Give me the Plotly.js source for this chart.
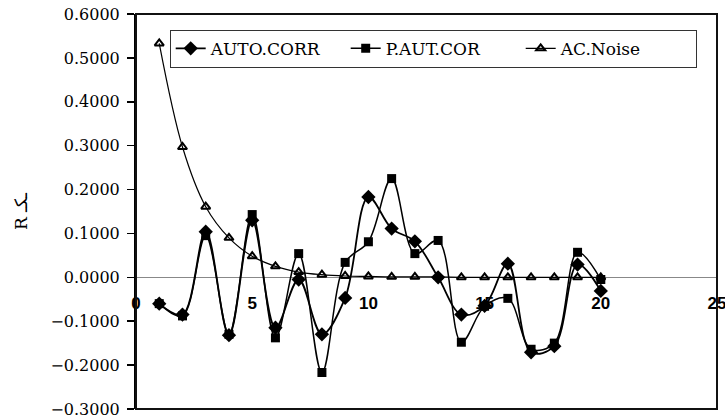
<!DOCTYPE html>
<html>
<head>
<meta charset="utf-8">
<script src="https://cdn.plot.ly/plotly-3.0.1.min.js"></script>
<style>html,body{margin:0;padding:0;background:#fff}#chart{width:725px;height:420px}</style>
</head>
<body>
<div id="chart"></div>
<script>
const lags = [1,2,3,4,5,6,7,8,9,10,11,12,13,14,15,16,17,18,19,20];
const autoCorr = [-0.060,-0.085,0.104,-0.132,0.130,-0.115,-0.005,-0.130,-0.047,0.183,0.111,0.082,0.000,-0.085,-0.065,0.031,-0.171,-0.157,0.029,-0.031];
const pAutCor = [-0.060,-0.088,0.095,-0.130,0.143,-0.138,0.054,-0.217,0.034,0.081,0.225,0.054,0.084,-0.148,-0.066,-0.048,-0.164,-0.150,0.057,-0.005];
const acNoise = [0.533,0.297,0.161,0.090,0.048,0.025,0.012,0.006,0.003,0.002,0.001,0.001,0.001,0.000,0.000,0.000,0.000,0.000,0.000,0.000];
const seriesNames = ["AUTO.CORR","P.AUT.COR","AC.Noise"];
const yTitle = "R ـﻜـ";

const serif = 'DejaVu Serif';

const traces = [
  {x: lags, y: autoCorr, name: seriesNames[0], type: 'scatter', mode: 'lines+markers',
   line: {color: '#000', width: 1.8, shape: 'spline', smoothing: 1},
   marker: {symbol: 'diamond', size: 11, color: '#000'}},
  {x: lags, y: pAutCor, name: seriesNames[1], type: 'scatter', mode: 'lines+markers',
   line: {color: '#000', width: 1.5, shape: 'spline', smoothing: 1},
   marker: {symbol: 'square', size: 9, color: '#000'}},
  {x: lags, y: acNoise, name: seriesNames[2], type: 'scatter', mode: 'lines+markers',
   line: {color: '#000', width: 1.2, shape: 'spline', smoothing: 1},
   marker: {symbol: 'triangle-up-open', size: 8, color: '#000', line: {width: 2, color: '#000'}}}
];

const layout = {
  width: 725, height: 420,
  margin: {l: 136, r: 8, t: 14, b: 11},
  paper_bgcolor: '#fff', plot_bgcolor: '#fff',
  showlegend: true,
  legend: {orientation: 'h', x: 0.058, y: 0.96, xanchor: 'left', yanchor: 'top',
    bordercolor: '#333', borderwidth: 1, bgcolor: '#fff',
    entrywidth: 130, entrywidthmode: 'pixels',
    font: {family: serif, size: 17, color: '#000'}},
  xaxis: {range: [0, 25], dtick: 5, tick0: 0, anchor: 'free', position: 0.333,
    showline: false, showgrid: false, zeroline: false, ticks: '',
    ticklabelstandoff: 14, ticklabeloverflow: 'allow',
    tickfont: {family: 'Liberation Sans', size: 17, color: '#000', weight: 'bold'}},
  yaxis: {range: [-0.3002, 0.6002], dtick: 0.1, tick0: 0, tickformat: '.4f', showgrid: false,
    zeroline: true, zerolinecolor: '#888', zerolinewidth: 1.2,
    showline: true, linecolor: '#000', linewidth: 2,
    ticks: 'outside', ticklen: 7, tickcolor: '#000', tickwidth: 1.5,
    ticklabelstandoff: 4, ticklabeloverflow: 'allow',
    tickfont: {family: serif, size: 16, color: '#000'},
    title: {text: yTitle, font: {family: 'DejaVu Serif', size: 17, color: '#000'}, standoff: 18}},
  shapes: [{type: 'rect', xref: 'paper', yref: 'paper', x0: 0, x1: 1, y0: 0, y1: 1,
    line: {color: '#111', width: 2}}]
};

Plotly.newPlot('chart', traces, layout, {displayModeBar: false, staticPlot: true});
</script>
</body>
</html>
